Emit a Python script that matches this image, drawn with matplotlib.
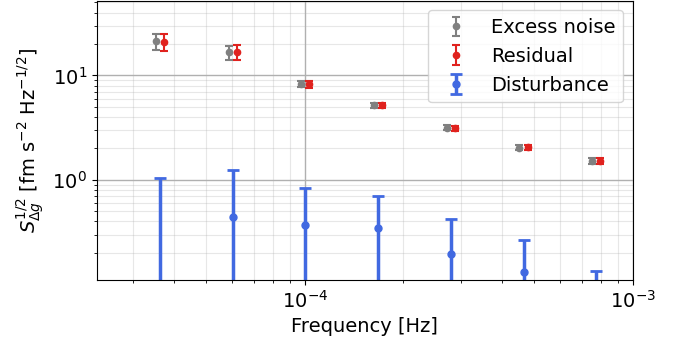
import numpy as np
import matplotlib
matplotlib.use("Agg")
import matplotlib.pyplot as plt

# frequency bins [Hz]
freq = [3.62e-5, 6.03e-5, 1.00e-4, 1.675e-4, 2.79e-4, 4.65e-4, 7.74e-4]

# excess noise ASD and 1-sigma error
excess = [21.4, 16.6, 8.28, 5.2, 3.15, 2.04, 1.52]
excess_err = [3.8, 2.5, 0.55, 0.3, 0.17, 0.11, 0.09]

# residual ASD and 1-sigma error
residual = [21.1, 16.8, 8.2, 5.2, 3.12, 2.05, 1.52]
residual_err = [4.0, 2.6, 0.6, 0.3, 0.17, 0.11, 0.09]

# disturbance estimate (lowest/highest bins fall below the plot floor)
disturb = [0.09, 0.446, 0.372, 0.350, 0.196, 0.131, 0.065]
disturb_err = [0.945, 0.80, 0.466, 0.353, 0.222, 0.136, 0.068]

plt.rcParams['font.size'] = 14

fig = plt.figure(figsize=(6.81, 3.47), dpi=100)
ax = fig.add_axes([0.142, 0.193, 0.787, 0.805])

f = np.array(freq)
shift = 1.03

ax.errorbar(f / shift, excess, yerr=excess_err, fmt='o', color='gray',
            ms=4.5, elinewidth=1.5, capsize=3, capthick=1.5, label='Excess noise')
ax.errorbar(f * shift, residual, yerr=residual_err, fmt='o', color='#e0221e',
            ms=4.5, elinewidth=1.5, capsize=3, capthick=1.5, label='Residual')
ax.errorbar(f, disturb, yerr=disturb_err, fmt='o', color='royalblue',
            ms=5, elinewidth=2.5, capsize=4.5, capthick=2, label='Disturbance')

ax.set_xscale('log')
ax.set_yscale('log')
ax.set_xlim(2.32e-5, 1e-3)
ax.set_ylim(0.11, 52)

ax.grid(True, which='major', color='#b0b0b0', lw=1)
ax.grid(True, which='minor', color='#b0b0b0', lw=0.8, alpha=0.3)

ax.set_xlabel('Frequency [Hz]')
ax.set_ylabel(r'$S_{\Delta g}^{1/2}$ [fm s$^{-2}$ Hz$^{-1/2}$]')
ax.legend(loc='upper right')

fig.savefig('out.png', dpi=100)
